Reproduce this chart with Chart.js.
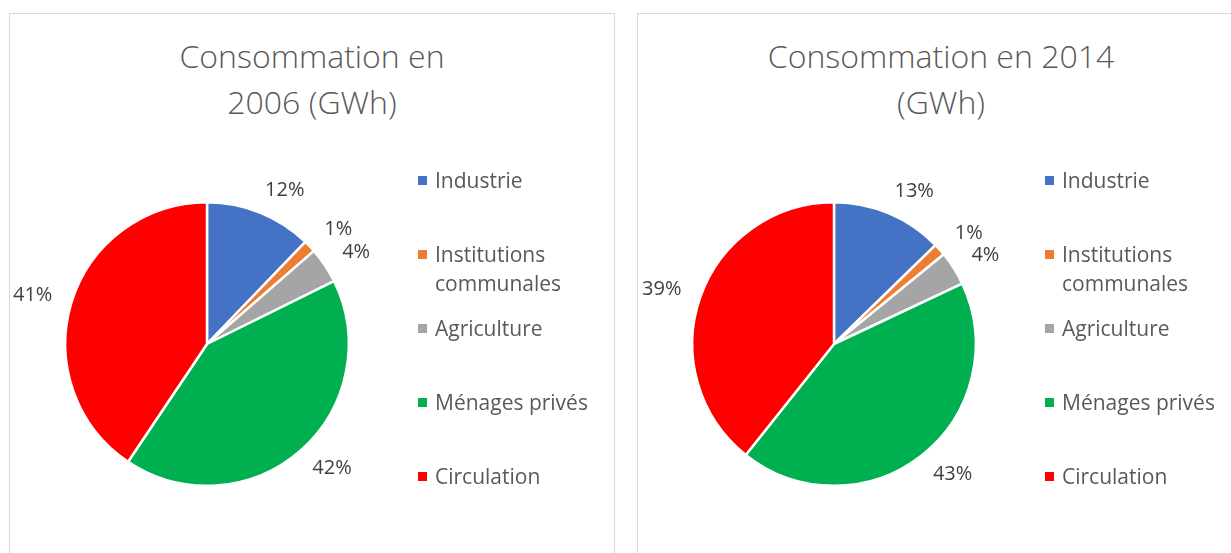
<!DOCTYPE html>
<html>
<head>
<meta charset="utf-8">
<script src="https://cdn.jsdelivr.net/npm/chart.js@4/dist/chart.umd.min.js"></script>
<style>
  body { margin: 0; background: #fff; width: 1231px; height: 553px; overflow: hidden; position: relative; font-family: "Open Sans", sans-serif; }
  .panel { position: absolute; top: 13px; width: 606px; height: 600px; border: 1px solid #d9d9d9; box-sizing: border-box; }
  .title { position: absolute; top: 19px; left: 0; width: 100%; color: #595959; font-size: 32px; font-weight: 300; line-height: 46px; }
  .title div { position: absolute; white-space: nowrap; transform: translateX(-50%); }
  canvas { position: absolute; }
  .legend { position: absolute; top: 152px; width: 190px; color: #595959; font-size: 21px; line-height: 29px; }
  .legend .item { position: relative; height: 74px; padding-left: 17px; }
  .legend .box { position: absolute; left: 0; top: 10px; width: 9px; height: 9px; }
  .legend .txt { width: 165px; }
</style>
</head>
<body>
<div class="panel" id="p1" style="left:9px"></div>
<div class="panel" id="p2" style="left:637px"></div>
<script>
const categories = ['Industrie', 'Institutions communales', 'Agriculture', 'Ménages privés', 'Circulation'];
const values2006 = [12.2, 1.4, 4.1, 41.7, 40.6];
const values2014 = [12.7, 1.4, 3.9, 42.7, 39.3];
const title2006 = ['Consommation en', '2006 (GWh)'];
const title2014 = ['Consommation en 2014', '(GWh)'];
const colors = ['#4472C4', '#ED7D31', '#A5A5A5', '#00B050', '#FF0000'];

// percentage labels drawn outside each slice, pushed sideways by half their width
const outsideLabels = {
  id: 'outsideLabels',
  afterDatasetsDraw(chart) {
    const ctx = chart.ctx
    const data = chart.data.datasets[0].data
    const total = data.reduce((a, b) => a + b, 0)
    ctx.save()
    ctx.font = '20px "Open Sans"'
    ctx.fillStyle = '#404040'
    ctx.textAlign = 'center'
    ctx.textBaseline = 'middle'
    chart.getDatasetMeta(0).data.forEach((arc, i) => {
      const mid = (arc.startAngle + arc.endAngle) / 2
      const r = arc.outerRadius + 24
      const pct = Math.round(data[i] / total * 100) + '%'
      const half = ctx.measureText(pct).width / 2
      const x = arc.x + Math.cos(mid) * r + Math.sign(Math.cos(mid)) * half * 0.8
      const y = arc.y + Math.sin(mid) * r
      ctx.fillText(pct, x, y)
    })
    ctx.restore()
  }
}

function buildPanel(panelId, titleLines, titleCenter, values, pieCenter, legendLeft) {
  const panel = document.getElementById(panelId)

  const title = document.createElement('div')
  title.className = 'title'
  titleLines.forEach((line, i) => {
    const d = document.createElement('div')
    d.textContent = line
    d.style.left = titleCenter + 'px'
    d.style.top = (i * 46) + 'px'
    title.appendChild(d)
  })
  panel.appendChild(title)

  const size = 440
  const canvas = document.createElement('canvas')
  canvas.width = size
  canvas.height = size
  canvas.style.left = (pieCenter[0] - size / 2) + 'px'
  canvas.style.top = (pieCenter[1] - size / 2) + 'px'
  panel.appendChild(canvas)

  const legend = document.createElement('div')
  legend.className = 'legend'
  legend.style.left = legendLeft + 'px'
  categories.forEach((cat, i) => {
    const item = document.createElement('div')
    item.className = 'item'
    item.innerHTML = '<div class="box" style="background:' + colors[i] + '"></div><div class="txt">' + cat + '</div>'
    legend.appendChild(item)
  })
  panel.appendChild(legend)

  new Chart(canvas, {
    type: 'pie',
    data: {
      labels: categories,
      datasets: [{
        data: values,
        backgroundColor: colors,
        borderColor: '#ffffff',
        borderWidth: 2.5
      }]
    },
    options: {
      responsive: false,
      animation: false,
      layout: { padding: 77 },
      plugins: {
        legend: { display: false },
        tooltip: { enabled: false }
      }
    },
    plugins: [outsideLabels]
  })
}

buildPanel('p1', title2006, 302, values2006, [197, 330], 408)
buildPanel('p2', title2014, 303, values2014, [196, 330], 407)
</script>
</body>
</html>
